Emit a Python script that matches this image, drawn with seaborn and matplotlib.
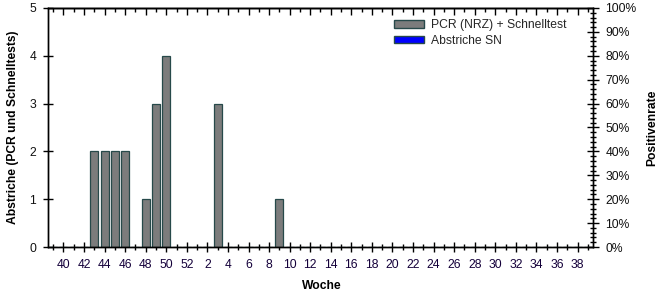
import matplotlib
matplotlib.use("Agg")
import matplotlib.pyplot as plt
import seaborn as sns
import pandas as pd
from matplotlib.patches import Patch
from matplotlib.ticker import PercentFormatter, MultipleLocator

# ---- data ----
years = [2022] * 14 + [2023] * 39
weeks = list(range(39, 53)) + list(range(1, 40))
pcr_schnelltest = [0, 0, 0, 0, 2, 2, 2, 2, 0, 1, 3, 4, 0, 0,
                   0, 0, 3, 0, 0, 0, 0, 0, 1, 0, 0, 0, 0, 0,
                   0, 0, 0, 0, 0, 0, 0, 0, 0, 0, 0, 0, 0, 0,
                   0, 0, 0, 0, 0, 0, 0, 0, 0, 0, 0]
abstriche_sn = [0] * 53
series_labels = ["PCR (NRZ) + Schnelltest", "Abstriche SN"]

keys = [f"{y}-{w:02d}" for y, w in zip(years, weeks)]
df = pd.DataFrame({"key": keys, "woche": weeks,
                   "pcr": pcr_schnelltest, "sn": abstriche_sn})

sns.set_theme(style="white")
plt.rcParams["font.family"] = ["Liberation Sans", "DejaVu Sans"]

FS = 8.7
grey = "#7c7c7c"
edge = "#27494a"
blue = "#0000ff"

fig = plt.figure(figsize=(6.66, 3.0), dpi=100)
ax = fig.add_axes([48 / 666, 1 - 247 / 300, (593 - 48) / 666, (247 - 8) / 300])

sns.barplot(data=df, x="key", y="pcr", order=keys, color=grey, width=0.78,
            edgecolor=edge, linewidth=0.9, saturation=1, ax=ax)
sns.barplot(data=df, x="key", y="sn", order=keys, color=blue, width=0.78,
            linewidth=0, saturation=1, ax=ax)

ax.set_xlim(-0.5, len(keys) - 0.5)
ax.set_ylim(0, 5)
ax.set_yticks(range(0, 6))
ax.set_yticklabels([str(v) for v in range(0, 6)], fontsize=FS, color="#111111")

major_pos = [i for i, w in enumerate(weeks) if w % 2 == 0]
minor_pos = [i for i, w in enumerate(weeks) if w % 2 == 1]
ax.set_xticks(major_pos)
ax.set_xticklabels([str(weeks[i]) for i in major_pos], fontsize=FS, color="#14003a")
ax.set_xticks(minor_pos, minor=True)

ax.tick_params(axis="x", which="major", direction="inout", length=7, width=1,
               color="black", pad=5, bottom=True)
ax.tick_params(axis="x", which="minor", direction="inout", length=4, width=1,
               color="black", bottom=True)
ax.tick_params(axis="y", which="major", direction="inout", length=7, width=1,
               color="black", pad=5, left=True)

for s in ax.spines.values():
    s.set_color("black")
    s.set_linewidth(1.0)

ax.set_xlabel("Woche", fontsize=FS, fontweight="bold", color="black")
ax.xaxis.set_label_coords(0.5 + (322 - 320.5) / 545, -33 / 239)
ax.set_ylabel("Abstriche (PCR und Schnelltests)", fontsize=FS, fontweight="bold", color="black")
ax.yaxis.set_label_coords(-29 / 545, 0.5)

# top axis ticks (inward)
top = ax.secondary_xaxis("top")
top.set_xticks(major_pos)
top.set_xticks(minor_pos, minor=True)
top.tick_params(which="major", direction="in", length=5, width=1, labeltop=False, color="black")
top.tick_params(which="minor", direction="in", length=3, width=1, color="black")
top.set_xticklabels([])
top.spines["top"].set_linewidth(1.0)
top.spines["top"].set_color("black")

# right axis: positive rate
ax2 = ax.twinx()
ax2.set_ylim(0, 1)
ax2.yaxis.set_major_locator(MultipleLocator(0.1))
ax2.yaxis.set_minor_locator(MultipleLocator(0.02))
ax2.yaxis.set_major_formatter(PercentFormatter(1.0, decimals=0))
ax2.tick_params(axis="y", which="major", direction="inout", length=8, width=1,
                color="black", labelsize=FS, labelcolor="#111111", pad=5, right=True)
ax2.tick_params(axis="y", which="minor", direction="inout", length=5, width=1,
                color="black", right=True)
ax2.set_ylabel("Positivenrate", fontsize=FS, fontweight="bold", color="black")
ax2.yaxis.set_label_coords(1 + 53 / 545, 0.5)
for s in ax2.spines.values():
    s.set_color("black")
    s.set_linewidth(1.0)

handles = [Patch(facecolor=grey, edgecolor=edge, linewidth=1.0),
           Patch(facecolor=blue, edgecolor=edge, linewidth=1.0)]
fig.legend(handles, series_labels, loc="upper left",
           bbox_to_anchor=(394 / 666, 1 - 19 / 300), frameon=False, fontsize=FS,
           handlelength=2.5, handleheight=0.6, handletextpad=0.55,
           labelspacing=0.3, borderpad=0, borderaxespad=0)

fig.savefig("out.png", dpi=100, facecolor="white")
